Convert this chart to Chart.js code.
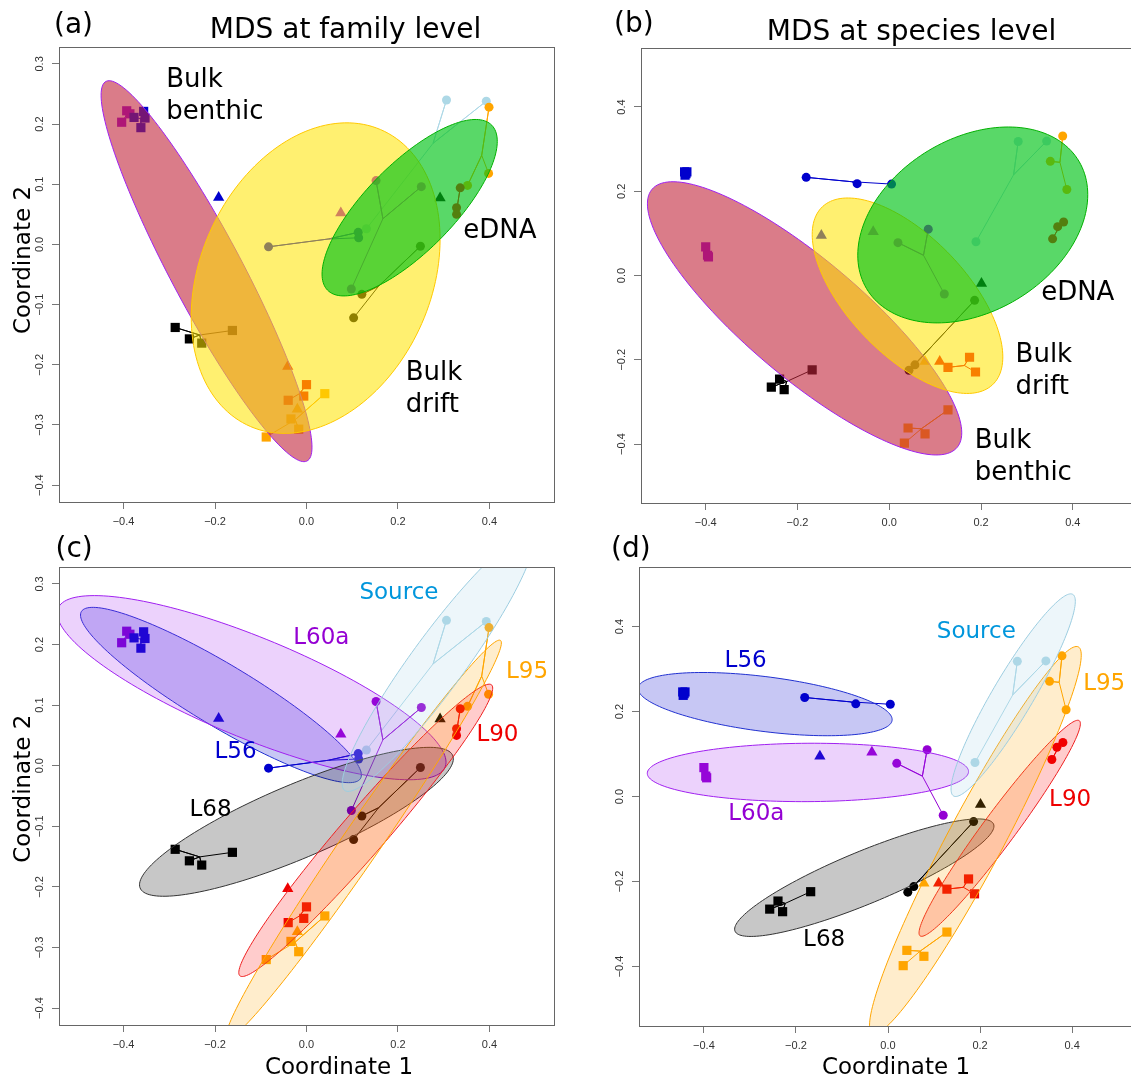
<!DOCTYPE html>
<html>
<head>
<meta charset="utf-8">
<script src="https://cdn.jsdelivr.net/npm/chart.js@4.4.1/dist/chart.umd.min.js"></script>
<style>
html, body { margin: 0; padding: 0; background: #fff; overflow: hidden; width: 1131px; height: 1077px; }
canvas { position: absolute; }
</style>
</head>
<body>
<canvas id="pa" width="565" height="540" style="left:0px;top:0px"></canvas>
<canvas id="pb" width="580" height="540" style="left:565px;top:0px"></canvas>
<canvas id="pc" width="565" height="560" style="left:0px;top:525px"></canvas>
<canvas id="pd" width="580" height="560" style="left:565px;top:525px"></canvas>
<script>
// sites and their colours
const sites = ['L56', 'L60a', 'L68', 'L90', 'L95', 'Source'];
const siteColors = ['#0000CD', '#9400D3', '#000000', '#EE0000', '#FFA500', '#ADD8E6'];
const siteFills = ['rgba(0,0,205,0.22)', 'rgba(160,32,240,0.2)', 'rgba(0,0,0,0.22)', 'rgba(255,0,0,0.2)', 'rgba(255,165,0,0.2)', 'rgba(173,216,230,0.22)'];
const siteEdges = ['#2030D0', '#A020F0', '#333333', '#EE2020', '#FFA500', '#9CCDE0'];
const siteLabelColors = ['#0000CD', '#9400D3', '#000000', '#EE0000', '#FFA500', '#0096DC'];

// sample types
const typeNames = ['Bulk benthic', 'Bulk drift', 'eDNA'];
const typeFills = ['rgba(193,37,58,0.6)', 'rgba(255,229,0,0.56)', 'rgba(0,195,23,0.65)'];
const typeEdges = ['#A020F0', '#FFC800', '#00B000'];

const xTicks = [-0.4, -0.2, 0, 0.2, 0.4];
const yTicksFam = [-0.4, -0.3, -0.2, -0.1, 0, 0.1, 0.2, 0.3];
const yTicksSpe = [-0.4, -0.2, 0, 0.2, 0.4];

// MDS scores, family level: [site, coordinate 1, coordinate 2]
const famBenthic = [
  ['L56', -0.356, 0.221], ['L56', -0.353, 0.210], ['L56', -0.362, 0.194], ['L56', -0.377, 0.211],
  ['L60a', -0.393, 0.222], ['L60a', -0.386, 0.217], ['L60a', -0.404, 0.203],
  ['L68', -0.287, -0.138], ['L68', -0.256, -0.157], ['L68', -0.229, -0.164], ['L68', -0.162, -0.143],
  ['L90', 0.000, -0.233], ['L90', -0.006, -0.252], ['L90', -0.040, -0.259],
  ['L95', 0.040, -0.248], ['L95', -0.034, -0.290], ['L95', -0.017, -0.307], ['L95', -0.088, -0.320]
];
const famDrift = [
  ['L56', -0.192, 0.078], ['L60a', 0.075, 0.052], ['L68', 0.292, 0.077], ['L90', -0.041, -0.203], ['L95', -0.020, -0.274]
];
const famEdna = [
  ['L56', -0.083, -0.004], ['L56', 0.113, 0.020], ['L56', 0.114, 0.011],
  ['L60a', 0.152, 0.106], ['L60a', 0.251, 0.096], ['L60a', 0.098, -0.074],
  ['L68', 0.249, -0.003], ['L68', 0.121, -0.083], ['L68', 0.103, -0.122],
  ['L90', 0.336, 0.094], ['L90', 0.328, 0.061], ['L90', 0.328, 0.050],
  ['L95', 0.399, 0.228], ['L95', 0.352, 0.098], ['L95', 0.398, 0.118],
  ['Source', 0.306, 0.240], ['Source', 0.393, 0.238], ['Source', 0.131, 0.026]
];

// MDS scores, species level
const speBenthic = [
  ['L56', -0.446, 0.246], ['L56', -0.441, 0.246], ['L56', -0.445, 0.238], ['L56', -0.443, 0.242],
  ['L60a', -0.400, 0.068], ['L60a', -0.396, 0.048], ['L60a', -0.394, 0.044],
  ['L68', -0.257, -0.265], ['L68', -0.239, -0.246], ['L68', -0.229, -0.271], ['L68', -0.168, -0.224],
  ['L90', 0.175, -0.194], ['L90', 0.128, -0.218], ['L90', 0.188, -0.229],
  ['L95', 0.128, -0.319], ['L95', 0.041, -0.362], ['L95', 0.078, -0.376], ['L95', 0.033, -0.398]
];
const speDrift = [
  ['L56', -0.148, 0.095], ['L60a', -0.035, 0.104], ['L68', 0.201, -0.019], ['L90', 0.110, -0.204], ['L95', 0.078, -0.204]
];
const speEdna = [
  ['L56', -0.181, 0.233], ['L56', -0.070, 0.218], ['L56', 0.005, 0.217],
  ['L60a', 0.019, 0.078], ['L60a', 0.085, 0.110], ['L60a', 0.120, -0.044],
  ['L68', 0.186, -0.059], ['L68', 0.043, -0.225], ['L68', 0.056, -0.212],
  ['L90', 0.356, 0.087], ['L90', 0.367, 0.116], ['L90', 0.380, 0.127],
  ['L95', 0.378, 0.331], ['L95', 0.351, 0.271], ['L95', 0.387, 0.204],
  ['Source', 0.281, 0.318], ['Source', 0.343, 0.319], ['Source', 0.189, 0.080]
];

// ellipses: [group, centre x, centre y, sd x, sd y, correlation]
const famTypeEll = [
  ['Bulk benthic', -0.2185, -0.0445, 0.2305, 0.3165, -0.924],
  ['Bulk drift', 0.020, -0.056, 0.272, 0.258, 0.25],
  ['eDNA', 0.2255, 0.061, 0.1915, 0.1466, 0.752]
];
const speTypeEll = [
  ['Bulk benthic', -0.1845, -0.1017, 0.3425, 0.3243, -0.838],
  ['Bulk drift', 0.0398, -0.048, 0.2077, 0.232, -0.626],
  ['eDNA', 0.182, 0.120, 0.2506, 0.2325, 0.309]
];
const famSiteEll = [
  ['L56', -0.187, 0.1167, 0.307, 0.1447, -0.912],
  ['L60a', -0.12, 0.1288, 0.425, 0.152, -0.809],
  ['L68', -0.022, -0.0926, 0.343, 0.1229, 0.846],
  ['L90', 0.1295, -0.1067, 0.2775, 0.2413, 0.973],
  ['L95', 0.125, -0.1217, 0.301, 0.329, 0.986],
  ['Source', 0.287, 0.170, 0.209, 0.2124, 0.938]
];
const speSiteEll = [
  ['L56', -0.267, 0.2174, 0.276, 0.0744, -0.489],
  ['L60a', -0.174, 0.0566, 0.349, 0.0687, 0.03],
  ['L68', -0.0515, -0.191, 0.2817, 0.1383, 0.876],
  ['L90', 0.2427, -0.0748, 0.1753, 0.2542, 0.968],
  ['L95', 0.1899, -0.1028, 0.2300, 0.4558, 0.955],
  ['Source', 0.272, 0.2384, 0.135, 0.2384, 0.926]
];

// group labels: [text, x, y] (left edge, vertical middle)
const famTypeLabels = [['Bulk\nbenthic', -0.3065, 0.247], ['Bulk\ndrift', 0.2168, -0.2407], ['eDNA', 0.3427, 0.0216]];
const speTypeLabels = [['eDNA', 0.331, -0.043], ['Bulk\ndrift', 0.2753, -0.2266], ['Bulk\nbenthic', 0.1863, -0.4315]];
const famSiteLabels = [['Source', 0.1157, 0.2858], ['L60a', -0.029, 0.211], ['L95', 0.436, 0.155], ['L90', 0.3714, 0.0513], ['L56', -0.201, 0.0224], ['L68', -0.2557, -0.073]];
const speSiteLabels = [['Source', 0.106, 0.387], ['L56', -0.355, 0.318], ['L95', 0.424, 0.264], ['L60a', -0.347, -0.041], ['L90', 0.350, -0.0089], ['L68', -0.1845, -0.338]];

const fmt = v => (Math.abs(v) < 1e-9 ? 0 : v).toFixed(1).replace('-', '\u2212');

function buildDatasets(benthic, drift, edna) {
  const sets = [];
  const kinds = [[benthic, 'rect', 6.5], [drift, 'triangle', 6.5], [edna, 'circle', 4.5]];
  kinds.forEach(([rows, style, rad]) => {
    sites.forEach((s, i) => {
      const pts = rows.filter(r => r[0] === s).map(r => ({x: r[1], y: r[2]}));
      if (!pts.length) return;
      sets.push({data: pts, pointStyle: style, pointRadius: rad, backgroundColor: siteColors[i],
                 borderColor: siteColors[i], pointBorderWidth: 0, showLine: false, order: 1});
      if (pts.length > 1) {
        // spider: centroid to each sample
        const cx = pts.reduce((a, p) => a + p.x, 0) / pts.length;
        const cy = pts.reduce((a, p) => a + p.y, 0) / pts.length;
        const spider = [];
        pts.forEach(p => spider.push({x: cx, y: cy}, p));
        sets.push({data: spider, showLine: true, borderColor: siteColors[i], backgroundColor: siteColors[i],
                   borderWidth: 1, pointRadius: 0, fill: false, order: 2});
      }
    });
  });
  return sets;
}

function typeEllipses(rows) {
  return rows.map(r => { const k = typeNames.indexOf(r[0]);
    return {cx: r[1], cy: r[2], sx: r[3], sy: r[4], r: r[5], fill: typeFills[k], edge: typeEdges[k]}; });
}
function siteEllipses(rows) {
  return rows.map(r => { const k = sites.indexOf(r[0]);
    return {cx: r[1], cy: r[2], sx: r[3], sy: r[4], r: r[5], fill: siteFills[k], edge: siteEdges[k]}; });
}

function panelPlugin(p) {
  return {
    id: 'panel',
    afterDatasetsDraw(chart) {
      const {ctx, chartArea: a, scales: {x, y}} = chart;
      ctx.save();
      ctx.beginPath(); ctx.rect(a.left, a.top, a.right - a.left, a.bottom - a.top); ctx.clip();
      p.ellipses.forEach(e => {
        const k = Math.sqrt(1 - e.r * e.r);
        ctx.beginPath();
        for (let i = 0; i <= 160; i++) {
          const t = i / 160 * 2 * Math.PI;
          const px = x.getPixelForValue(e.cx + e.sx * Math.cos(t));
          const py = y.getPixelForValue(e.cy + e.sy * (e.r * Math.cos(t) + k * Math.sin(t)));
          if (i) ctx.lineTo(px, py); else ctx.moveTo(px, py);
        }
        ctx.closePath();
        ctx.fillStyle = e.fill; ctx.fill();
        ctx.strokeStyle = e.edge; ctx.lineWidth = 1; ctx.stroke();
      });
      ctx.restore();

      // group labels
      ctx.save();
      ctx.font = p.labelSize + "px 'DejaVu Sans'";
      ctx.textAlign = 'left'; ctx.textBaseline = 'middle';
      p.labels.forEach(l => {
        const lines = l[0].split('\n');
        const px = x.getPixelForValue(l[1]), py = y.getPixelForValue(l[2]);
        ctx.fillStyle = l[3];
        lines.forEach((s, j) => ctx.fillText(s, px, py + (j - (lines.length - 1) / 2) * 32));
      });
      ctx.restore();

      // box
      ctx.save();
      ctx.strokeStyle = '#666'; ctx.lineWidth = 1;
      ctx.strokeRect(Math.round(a.left) + 0.5, Math.round(a.top) + 0.5, Math.round(a.right - a.left), Math.round(a.bottom - a.top));
      // y tick labels, rotated as in base graphics
      ctx.font = "11px 'Liberation Sans'"; ctx.fillStyle = '#333';
      ctx.textAlign = 'center'; ctx.textBaseline = 'middle';
      y.ticks.forEach(t => {
        ctx.save();
        ctx.translate(a.left - 18.6, y.getPixelForValue(t.value));
        ctx.rotate(-Math.PI / 2);
        ctx.fillText(fmt(t.value), 0, 0);
        ctx.restore();
      });
      // titles
      ctx.fillStyle = '#000'; ctx.textBaseline = 'alphabetic';
      ctx.font = "28px 'DejaVu Sans'";
      ctx.textAlign = 'left';
      ctx.fillText(p.tag[0], p.tag[1], p.tag[2]);
      if (p.title) { ctx.textAlign = 'center'; ctx.fillText(p.title[0], p.title[1], p.title[2]); }
      ctx.font = "23px 'DejaVu Sans'"; ctx.textAlign = 'center';
      if (p.xTitle) ctx.fillText('Coordinate 1', p.xTitle[0], p.xTitle[1]);
      if (p.yTitle) {
        ctx.translate(p.yTitle[0], p.yTitle[1]); ctx.rotate(-Math.PI / 2);
        ctx.fillText('Coordinate 2', 0, 0);
      }
      ctx.restore();
    }
  };
}

function makeChart(id, p) {
  return new Chart(document.getElementById(id), {
    type: 'scatter',
    data: {datasets: p.datasets},
    options: {
      responsive: false, animation: false, devicePixelRatio: 1,
      layout: {padding: p.pad},
      plugins: {legend: {display: false}, tooltip: {enabled: false}, colors: {enabled: false}},
      scales: {
        x: {
          type: 'linear', min: -0.541, max: 0.541,
          afterBuildTicks: s => { s.ticks = xTicks.map(v => ({value: v})); },
          afterFit: s => { s.height = p.xh; },
          grid: {drawOnChartArea: false, color: '#777', tickLength: 7},
          border: {display: false},
          ticks: {callback: v => fmt(v), font: {family: 'Liberation Sans', size: 11}, color: '#333',
                  padding: 6, maxRotation: 0, autoSkip: false}
        },
        y: {
          type: 'linear', min: p.ymin, max: p.ymax,
          afterBuildTicks: s => { s.ticks = p.yTicks.map(v => ({value: v})); },
          afterFit: s => { s.width = p.yw; },
          grid: {drawOnChartArea: false, color: '#777', tickLength: 7},
          border: {display: false},
          ticks: {display: false}
        }
      }
    },
    plugins: [panelPlugin(p)]
  });
}

const famLabelsA = famTypeLabels.map(l => [...l, '#000']);
const speLabelsB = speTypeLabels.map(l => [...l, '#000']);
const famLabelsC = famSiteLabels.map(l => [...l, siteLabelColors[sites.indexOf(l[0])]]);
const speLabelsD = speSiteLabels.map(l => [...l, siteLabelColors[sites.indexOf(l[0])]]);

makeChart('pa', {
  datasets: buildDatasets(famBenthic, famDrift, famEdna), ellipses: typeEllipses(famTypeEll),
  labels: famLabelsA, labelSize: 26, ymin: -0.428, ymax: 0.328, yTicks: yTicksFam,
  pad: {left: 0, top: 47, right: 11, bottom: 8}, yw: 59, xh: 30,
  tag: ['(a)', 54, 33], title: ['MDS at family level', 345.5, 38], yTitle: [30, 260]
});
makeChart('pb', {
  datasets: buildDatasets(speBenthic, speDrift, speEdna), ellipses: typeEllipses(speTypeEll),
  labels: speLabelsB, labelSize: 26, ymin: -0.54, ymax: 0.54, yTicks: yTicksSpe,
  pad: {left: 0, top: 48, right: 7.5, bottom: 7}, yw: 76, xh: 30,
  tag: ['(b)', 49, 32], title: ['MDS at species level', 346.5, 40]
});
makeChart('pc', {
  datasets: buildDatasets(famBenthic, famDrift, famEdna), ellipses: siteEllipses(famSiteEll),
  labels: famLabelsC, labelSize: 23, ymin: -0.428, ymax: 0.328, yTicks: yTicksFam,
  pad: {left: 0, top: 42, right: 11, bottom: 7}, yw: 59, xh: 53,
  tag: ['(c)', 55.5, 31.5], xTitle: [339, 549], yTitle: [30, 263.7]
});
makeChart('pd', {
  datasets: buildDatasets(speBenthic, speDrift, speEdna), ellipses: siteEllipses(speSiteEll),
  labels: speLabelsD, labelSize: 23, ymin: -0.54, ymax: 0.54, yTicks: yTicksSpe,
  pad: {left: 0, top: 42, right: 8, bottom: 7}, yw: 74, xh: 52,
  tag: ['(d)', 46, 31.5], xTitle: [331, 549]
});
</script>
</body>
</html>
